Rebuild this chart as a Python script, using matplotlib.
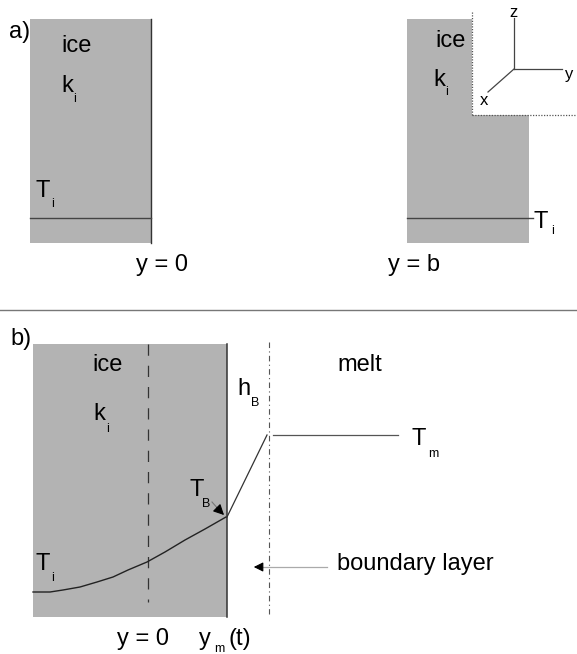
# Schematic: ice block with temperature profile, panels a) and b)
import matplotlib
matplotlib.use("Agg")
import matplotlib.pyplot as plt
from matplotlib.patches import Rectangle, Polygon

plt.rcParams['font.family'] = ['Liberation Sans', 'DejaVu Sans']

ICE = '#b3b3b3'

# panel a) left block (x0, x1, y_top, y_bottom) and T_i level
block_a1 = [30, 151, 19, 243]
ti_level_a1 = 218
# panel a) right block with the cut-out corner
block_a2 = [407, 529, 19, 243]
cut_corner = [472, 115]
ti_level_a2 = 218
axes_origin = [514, 69]
axes_tips = {'z': [514, 18], 'y': [562, 69], 'x': [488, 92]}

# panel b)
block_b = [33, 227, 344, 617]
y0_line_x = 148
hb_line_x = 269
# temperature profile in the ice
ti_profile_x = [33, 50, 63, 80, 97, 113, 128, 147, 165, 185, 205, 226]
ti_profile_y = [592, 592, 590, 587, 582, 577, 570, 562, 552, 540, 529, 517]
# boundary layer ramp and melt temperature
ramp_x = [227, 267]
ramp_y = [517, 435]
tm_line_x = [273, 398]
tm_level = 435

fig = plt.figure(figsize=(5.77, 6.54), dpi=100)
ax = fig.add_axes([0, 0, 1, 1])
ax.set_xlim(0, 577)
ax.set_ylim(654, 0)
ax.axis('off')

FS = 17
SUB = 9


def label(x, y, main, sub=None, subdx=None, subdy=10, fs=FS):
    ax.text(x, y, main, fontsize=fs, va='baseline', ha='left')
    if sub is not None:
        ax.text(x + subdx, y + subdy, sub, fontsize=SUB, va='baseline', ha='left')


# ---------------- panel a) ----------------
x0, x1, yt, yb = block_a1
ax.add_patch(Rectangle((x0, yt), x1 - x0, yb - yt, color=ICE, lw=0))
ax.plot([x1, x1], [yt, yb], color='#333333', lw=1.0)
ax.plot([x0, x1], [ti_level_a1, ti_level_a1], color='#444444', lw=1.0)
label(9, 38, 'a)')
label(61, 52, 'ice')
label(61, 92, 'k', 'i', 12, 10)
label(36, 197, 'T', 'i', 15, 10)
label(136, 271, 'y = 0')

x0, x1, yt, yb = block_a2
cx, cy = cut_corner
ax.add_patch(Polygon([(x0, yt), (cx, yt), (cx, cy), (x1, cy), (x1, yb), (x0, yb)],
                     closed=True, color=ICE, lw=0))
ax.plot([cx, cx], [12, cy], color='#555555', lw=0.9, ls=(0, (1, 1.2)))
ax.plot([cx, 577], [cy, cy], color='#555555', lw=0.9, ls=(0, (1, 1.2)))
ax.plot([x0, 533], [ti_level_a2, ti_level_a2], color='#444444', lw=1.0)
label(435, 47, 'ice')
label(433, 86, 'k', 'i', 12, 9)
label(534, 228, 'T', 'i', 17, 6)
label(388, 271, 'y = b')

ox, oy = axes_origin
for name, (tx, ty) in axes_tips.items():
    ax.plot([ox, tx], [oy, ty], color='#444444', lw=0.9)
ax.text(514, 17, 'z', fontsize=12, ha='center', va='baseline')
ax.text(565, 79, 'y', fontsize=12, ha='left', va='baseline')
ax.text(484, 105, 'x', fontsize=12, ha='center', va='baseline')

# separator
ax.plot([0, 577], [310, 310], color='#777777', lw=1.0)

# ---------------- panel b) ----------------
x0, x1, yt, yb = block_b
ax.add_patch(Rectangle((x0, yt), x1 - x0, yb - yt, color=ICE, lw=0))
ax.plot([x1, x1], [yt, yb], color='#333333', lw=1.1)
ax.plot([y0_line_x, y0_line_x], [yt, 602], color='#333333', lw=0.9, ls=(0, (9, 8)))
ax.plot([hb_line_x, hb_line_x], [342, 614], color='#555555', lw=0.8, ls=(0, (5, 3, 1, 3)))

ax.plot(ti_profile_x, ti_profile_y, color='#222222', lw=1.0)
ax.plot(ramp_x, ramp_y, color='#333333', lw=0.9)
ax.plot(tm_line_x, [tm_level, tm_level], color='#555555', lw=0.9)

# T_B pointer
ax.plot([212, 220], [502, 511], color='#777777', lw=0.8)
ax.annotate('', xy=(226, 517), xytext=(215, 506),
            arrowprops=dict(arrowstyle='-|>', color='black', lw=0.8, mutation_scale=16))

# boundary layer pointer
ax.plot([262, 327], [567, 567], color='#aaaaaa', lw=0.9)
ax.annotate('', xy=(251, 567), xytext=(262, 567),
            arrowprops=dict(arrowstyle='-|>', color='black', lw=0.8, mutation_scale=14))

label(10, 345, 'b)')
label(92, 371, 'ice')
label(93, 420, 'k', 'i', 13, 12)
label(237, 395, 'h', 'B', 14, 11)
label(337, 371, 'melt')
label(412, 445, 'T', 'm', 16, 12)
label(190, 496, 'T', 'B', 12, 11)
label(36, 570, 'T', 'i', 15, 11)
label(337, 570, 'boundary layer')
label(117, 645, 'y = 0')
label(199, 645, 'y', 'm', 15, 7)
ax.text(228, 645, '(t)', fontsize=FS, va='baseline', ha='left')

fig.savefig('out.png', dpi=100)
